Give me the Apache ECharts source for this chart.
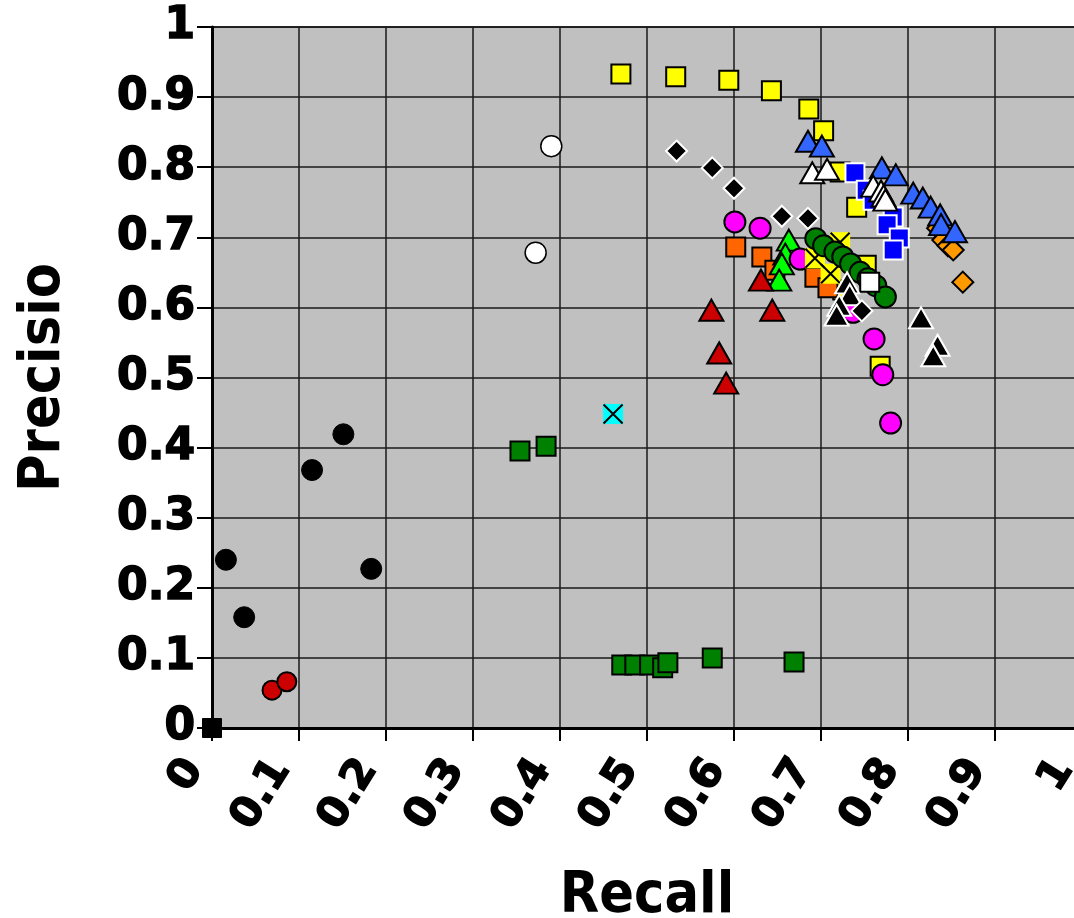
<!DOCTYPE html>
<html><head><meta charset="utf-8">
<script src="https://cdn.jsdelivr.net/npm/echarts@6/dist/echarts.min.js"></script>
<style>html,body{margin:0;padding:0;background:#fff}#c{width:1074px;height:918px}</style>
</head><body><div id="c"></div>
<script>
const xTicks = [0,0.1,0.2,0.3,0.4,0.5,0.6,0.7,0.8,0.9,1];
const yTicks = [0,0.1,0.2,0.3,0.4,0.5,0.6,0.7,0.8,0.9,1];
const xTitle = 'Recall';
const yTitle = 'Precisio';

const yellowSquares = [[0.470,0.933],[0.533,0.929],[0.594,0.924],[0.643,0.909],[0.686,0.883],[0.703,0.852],[0.722,0.793],[0.741,0.743],[0.752,0.660],[0.768,0.516],[0.686,0.668],[0.725,0.625]];
const yellowX = [[0.722,0.693],[0.693,0.670],[0.711,0.648]];
const orangeSquares = [[0.602,0.686],[0.632,0.672],[0.647,0.653],[0.693,0.643],[0.708,0.628]];
const magentaCircles = [[0.601,0.722],[0.630,0.713],[0.676,0.669],[0.737,0.593],[0.761,0.555],[0.771,0.504],[0.780,0.435]];
const greenTriangles = [[0.663,0.696],[0.659,0.676],[0.655,0.662],[0.652,0.639]];
const redTriangles = [[0.574,0.596],[0.583,0.535],[0.591,0.492],[0.644,0.596],[0.631,0.639]];
const darkGreenCircles = [[0.694,0.698],[0.703,0.688],[0.716,0.679],[0.725,0.672],[0.734,0.662],[0.745,0.650],[0.754,0.641],[0.763,0.631],[0.774,0.615]];
const whiteSquares = [[0.756,0.636]];
const blackTriangles = [[0.730,0.635],[0.733,0.618],[0.721,0.603],[0.718,0.589],[0.815,0.585],[0.834,0.546],[0.829,0.531]];
const blackDiamonds = [[0.534,0.823],[0.575,0.799],[0.600,0.770],[0.655,0.730],[0.685,0.727],[0.747,0.595]];
const orangeDiamonds = [[0.834,0.713],[0.840,0.696],[0.846,0.688],[0.852,0.682],[0.863,0.636]];
const blueTriangles = [[0.685,0.837],[0.701,0.830],[0.770,0.799],[0.786,0.789],[0.806,0.763],[0.817,0.756],[0.826,0.743],[0.837,0.732],[0.838,0.718],[0.854,0.708]];
const blueSquares = [[0.739,0.792],[0.752,0.767],[0.760,0.753],[0.783,0.729],[0.776,0.718],[0.790,0.699],[0.783,0.682]];
const whiteTriangles = [[0.690,0.792],[0.707,0.797],[0.760,0.773],[0.769,0.766],[0.772,0.759],[0.774,0.753]];
const whiteCircles = [[0.390,0.830],[0.372,0.678]];
const blackCircles = [[0.016,0.240],[0.037,0.158],[0.115,0.368],[0.151,0.419],[0.183,0.227]];
const redCircles = [[0.069,0.054],[0.086,0.066]];
const greenSquares = [[0.354,0.395],[0.384,0.402],[0.471,0.090],[0.486,0.090],[0.503,0.090],[0.518,0.086],[0.524,0.093],[0.575,0.100],[0.669,0.094]];
const cyanX = [[0.461,0.448]];
const blackSquares = [[0.0,0.0]];

const XPATH = 'path://M0,0L10,10M10,0L0,10';
const SQ = 19, CI = 21, TR = [24,21], DI = 21;
function sc(data, symbol, size, color, border, bw, z) {
  return {type:'scatter', data, symbol, symbolSize:size, z:z||2,
    itemStyle:{color, borderColor:border, borderWidth:bw, opacity:1}, emphasis:{disabled:true}};
}
const series = [
  sc(greenSquares,'rect',SQ,'#008000','#000',2),
  sc(blackCircles,'circle',CI,'#000','#000',1),
  sc(redCircles,'circle',19,'#CC0000','#000',2),
  sc(whiteCircles,'circle',CI,'#fff','#000',1.5),
  sc(blackSquares,'rect',SQ,'#000','#000',1),
  sc(cyanX,'rect',20,'#00FFFF','#00FFFF',0),
  sc(cyanX,XPATH,19,'transparent','#000',2),
  sc(yellowSquares,'rect',SQ,'#FFFF00','#000',2),
  sc(orangeSquares,'rect',SQ,'#FF6600','#000',2),
  sc(greenTriangles,'triangle',TR,'#00FF00','#000',2),
  sc(redTriangles,'triangle',TR,'#CC0000','#000',2),
  sc(magentaCircles,'circle',CI,'#FF00FF','#000',2),
  sc(yellowX,'rect',20,'#FFFF00','#FFFF00',0),
  sc(yellowX,XPATH,19,'transparent','#000',2),
  sc(darkGreenCircles,'circle',CI,'#008000','#000',2),
  sc(whiteSquares,'rect',SQ,'#fff','#000',2),
  sc(blackTriangles,'triangle',TR,'#000','#fff',2),
  sc(blackDiamonds,'diamond',DI,'#000','#fff',2),
  sc(orangeDiamonds,'diamond',DI,'#FF9900','#000',2),
  sc(blueTriangles,'triangle',TR,'#3366FF','#000',2),
  sc(blueSquares,'rect',SQ,'#0000FF','#fff',2),
  sc(whiteTriangles,'triangle',TR,'#fff','#000',2)
];

const labelFont = {fontFamily:'DejaVu Sans', fontWeight:'bold', fontSize:44, color:'#000', textBorderColor:'#000', textBorderWidth:1.5};
const titleFont = {fontFamily:'DejaVu Sans Condensed', fontWeight:'bold', fontSize:57, color:'#000'};
const chart = echarts.init(document.getElementById('c'), null, {renderer:'canvas'});
chart.setOption({
  animation:false,
  backgroundColor:'#fff',
  grid:{left:212, top:27, width:870, height:701, show:true, backgroundColor:'#C0C0C0', borderColor:'#000', borderWidth:1.5, containLabel:false, outerBoundsMode:'none'},
  xAxis:{type:'value', min:xTicks[0], max:xTicks[xTicks.length-1], interval:0.1,
    name:xTitle, nameLocation:'middle', nameGap:141,
    nameTextStyle:titleFont,
    axisLine:{show:true, onZero:false, lineStyle:{color:'#000', width:3}},
    axisTick:{show:true, inside:false, length:13, lineStyle:{color:'#000', width:2}},
    splitLine:{show:true, lineStyle:{color:'#1a1a1a', width:1.5}},
    axisLabel:{...labelFont, fontSize:42, rotate:58, margin:46, align:'right', verticalAlign:'bottom', formatter:v=>String(+v.toFixed(1))}
  },
  yAxis:{type:'value', min:yTicks[0], max:yTicks[yTicks.length-1], interval:0.1,
    name:yTitle, nameLocation:'middle', nameGap:139, nameRotate:90,
    nameTextStyle:titleFont,
    axisLine:{show:true, onZero:false, lineStyle:{color:'#000', width:3}},
    axisTick:{show:true, inside:false, length:15, lineStyle:{color:'#000', width:2}},
    splitLine:{show:true, lineStyle:{color:'#1a1a1a', width:1.5}},
    axisLabel:{...labelFont, margin:17, formatter:v=>String(+v.toFixed(1))}
  },
  series
});
</script></body></html>
